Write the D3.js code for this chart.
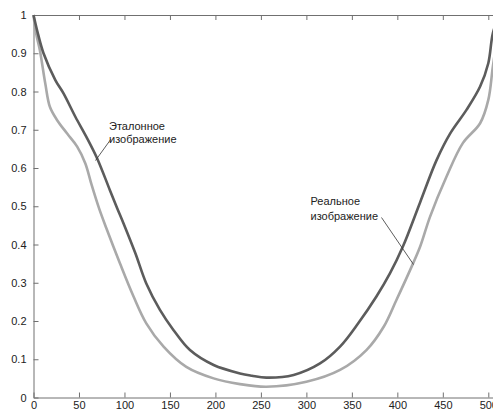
<!DOCTYPE html>
<html>
<head>
<meta charset="utf-8">
<script src="https://cdn.jsdelivr.net/npm/d3@7"></script>
<style>
  html, body { margin: 0; padding: 0; background: #fff; }
  svg { display: block; }
  text { font-family: "Liberation Sans", Arial, sans-serif; }
</style>
</head>
<body>
<svg id="chart" width="493" height="411"></svg>
<script>
// Reference ("Эталонное изображение") curve, dark
const refX = [0, 5, 11, 24, 33, 46, 58, 70, 84, 92, 99, 112, 124, 139, 154, 172, 198, 227, 240, 256, 286, 315, 337, 357, 377, 392, 406, 425, 443, 458, 476, 491, 500, 505, 512];
const refY = [1.0, 0.95, 0.90, 0.83, 0.795, 0.734, 0.682, 0.625, 0.542, 0.495, 0.455, 0.377, 0.298, 0.229, 0.176, 0.124, 0.085, 0.063, 0.057, 0.052, 0.059, 0.089, 0.133, 0.194, 0.264, 0.325, 0.394, 0.51, 0.62, 0.69, 0.752, 0.813, 0.874, 0.952, 1.0];
// Real ("Реальное изображение") curve, light
const realX = [0, 3, 7, 13, 18, 26, 37, 48, 57, 64, 72, 80, 95, 110, 124, 143, 168, 198, 227, 256, 300, 337, 366, 385, 399, 414, 425, 436, 454, 472, 491, 500, 505, 512];
const realY = [1.0, 0.95, 0.908, 0.82, 0.76, 0.725, 0.69, 0.656, 0.612, 0.555, 0.495, 0.443, 0.351, 0.264, 0.194, 0.133, 0.08, 0.05, 0.035, 0.028, 0.041, 0.072, 0.124, 0.185, 0.255, 0.333, 0.394, 0.473, 0.577, 0.665, 0.717, 0.778, 0.865, 0.98];

const xTicks = [0, 50, 100, 150, 200, 250, 300, 350, 400, 450, 500];
const xTickLabels = ["0", "50", "100", "150", "200", "250", "300", "350", "400", "450", "500"];
const yTicks = [0, 0.1, 0.2, 0.3, 0.4, 0.5, 0.6, 0.7, 0.8, 0.9, 1];
const yTickLabels = ["0", "0.1", "0.2", "0.3", "0.4", "0.5", "0.6", "0.7", "0.8", "0.9", "1"];

const refLabel = ["Эталонное", "изображение"];
const realLabel = ["Реальное", "изображение"];

const svg = d3.select("#chart");
const padLeft = 33.5, padTop = 15, padBottom = 397.5;
const x = d3.scaleLinear().domain([0, 512]).range([padLeft, padLeft + 512 * 0.9096]);
const y = d3.scaleLinear().domain([0, 1]).range([padBottom, padTop]);

const axisColor = "#707070";
const textColor = "#222";

// Axes
const gB = svg.append("g").attr("transform", `translate(0,${padBottom})`)
  .call(d3.axisBottom(x).tickValues(xTicks).tickFormat((d, i) => xTickLabels[i]).tickSizeInner(-5).tickSizeOuter(0).tickPadding(4));
const gL = svg.append("g").attr("transform", `translate(${padLeft},0)`)
  .call(d3.axisLeft(y).tickValues(yTicks).tickFormat((d, i) => yTickLabels[i]).tickSizeInner(-5).tickSizeOuter(0).tickPadding(7));
const gT = svg.append("g").attr("transform", `translate(0,${padTop})`)
  .call(d3.axisTop(x).tickValues(xTicks).tickFormat("").tickSizeInner(-5).tickSizeOuter(0));

[gB, gL, gT].forEach(g => {
  g.selectAll("path, line").attr("stroke", axisColor).attr("stroke-width", 1);
  g.selectAll("text").attr("fill", textColor).attr("font-size", 11)
    .attr("font-family", '"Liberation Sans", Arial, sans-serif');
});

const line = d3.line().curve(d3.curveCatmullRom.alpha(0.5)).x(d => x(d[0])).y(d => y(d[1]));

svg.append("path")
  .datum(realX.map((v, i) => [v, realY[i]]))
  .attr("d", line).attr("fill", "none").attr("stroke", "#a9a9a9").attr("stroke-width", 2.6)
  .attr("stroke-linejoin", "round");
svg.append("path")
  .datum(refX.map((v, i) => [v, refY[i]]))
  .attr("d", line).attr("fill", "none").attr("stroke", "#5c5c5c").attr("stroke-width", 2.6)
  .attr("stroke-linejoin", "round");

// Annotations
function annot(lines, tx, ty, gap, from, to) {
  const t = svg.append("text").attr("font-size", 11).attr("fill", textColor);
  lines.forEach((s, i) => t.append("tspan").attr("x", tx).attr("y", ty + i * gap).text(s));
  svg.append("line")
    .attr("x1", from[0]).attr("y1", from[1]).attr("x2", to[0]).attr("y2", to[1])
    .attr("stroke", "#333").attr("stroke-width", 0.8);
}
annot(refLabel, 109, 129.5, 13.5, [111, 139], [95.5, 160.5]);
annot(realLabel, 310.5, 205, 14.5, [381.5, 217.5], [413.5, 264.5]);
</script>
</body>
</html>
